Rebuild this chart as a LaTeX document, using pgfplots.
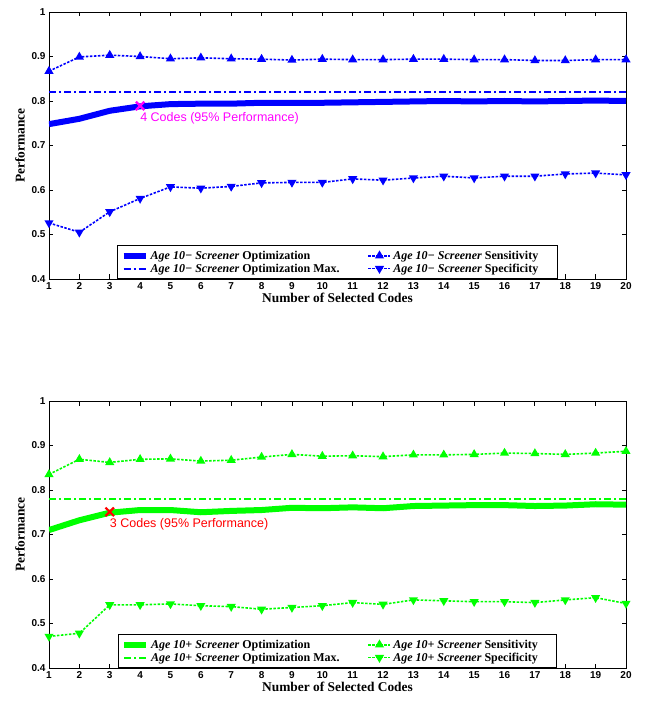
\documentclass[border=0pt]{standalone}
\usepackage{fontspec}
\setmainfont{Liberation Serif}
\setsansfont{Liberation Sans}
\usepackage{pgfplots}
\pgfplotsset{compat=1.18}
\definecolor{mblue}{rgb}{0,0,1}
\definecolor{mgreen}{rgb}{0,1,0}
\definecolor{mmag}{rgb}{1,0,1}
\definecolor{mred}{rgb}{1,0,0}
\pgfplotsset{
 myax/.style={
  scale only axis, width=577pt, height=267pt,
  xmin=1, xmax=20, ymin=0.4, ymax=1,
  xtick={1,2,3,4,5,6,7,8,9,10,11,12,13,14,15,16,17,18,19,20},
  xticklabels={1,2,3,4,5,6,7,8,9,10,11,12,13,14,15,16,17,18,19,20},
  ytick={0.4,0.5,0.6,0.7,0.8,0.9,1},
  yticklabels={0.4,0.5,0.6,0.7,0.8,0.9,1},
  tick align=inside, major tick length=4.5pt,
  every tick/.style={line width=0.8pt, black},
  axis line style={line width=0.8pt},
  tick label style={font=\fontsize{10}{12}\selectfont\sffamily\bfseries},
  label style={font=\fontsize{13.4}{16}\selectfont\bfseries},
  xlabel={Number of Selected Codes}, ylabel={Performance},
  xlabel style={yshift=3pt},
  legend columns=2,
  legend cell align=left,
  legend style={at={(0.5,0)}, anchor=south, font=\fontsize{12}{14}\selectfont\bfseries,
    draw=black, line width=0.8pt, inner xsep=3pt, inner ysep=3pt, row sep=-1pt,
    /tikz/every even column/.append style={column sep=26pt}},
  legend image code/.code={\draw[mark repeat=2,mark phase=2,##1] plot coordinates {(0pt,0pt) (11pt,0pt) (22pt,0pt)};},
  opt/.style={line width=6pt},
  omax/.style={line width=2pt, dash pattern=on 7pt off 3pt on 2pt off 3pt},
  sens/.style={line width=1.6pt, dash pattern=on 2.5pt off 1.5pt, mark=triangle*, mark size=3.7pt, mark options={solid}},
  spec/.style={line width=1.6pt, dash pattern=on 2.5pt off 1.5pt, mark=triangle*, mark size=3.7pt, mark options={solid, rotate=180}},
 }
}
\begin{document}
\begin{tikzpicture}[x=1pt,y=1pt]
\useasboundingbox (0,0) rectangle (645,702);
\begin{axis}[myax, at={(49pt,423pt)}, anchor=south west]
\addplot[mblue, opt] coordinates {(1,0.748)(2,0.760)(3,0.778)(4,0.788)(5,0.793)(6,0.794)(7,0.794)(8,0.796)(9,0.796)(10,0.796)(11,0.797)(12,0.798)(13,0.799)(14,0.800)(15,0.799)(16,0.800)(17,0.799)(18,0.800)(19,0.801)(20,0.800)};
\addlegendentry{\textit{Age 10− Screener} Optimization}
\addplot[mblue, sens] coordinates {(1,0.867)(2,0.899)(3,0.903)(4,0.900)(5,0.895)(6,0.897)(7,0.895)(8,0.894)(9,0.892)(10,0.894)(11,0.893)(12,0.893)(13,0.894)(14,0.894)(15,0.893)(16,0.893)(17,0.891)(18,0.891)(19,0.893)(20,0.893)};
\addlegendentry{\textit{Age 10− Screener} Sensitivity\kern14pt}
\addplot[mblue, omax] coordinates {(1,0.821)(20,0.821)};
\addlegendentry{\textit{Age 10− Screener} Optimization Max.}
\addplot[mblue, spec] coordinates {(1,0.526)(2,0.505)(3,0.551)(4,0.581)(5,0.607)(6,0.604)(7,0.608)(8,0.616)(9,0.617)(10,0.617)(11,0.625)(12,0.622)(13,0.627)(14,0.631)(15,0.627)(16,0.631)(17,0.631)(18,0.636)(19,0.638)(20,0.634)};
\addlegendentry{\textit{Age 10− Screener} Specificity\kern14pt}
\addplot[mmag, only marks, mark=x, mark size=6pt, line width=2.2pt, forget plot] coordinates {(4,0.789)};
\node[anchor=north west, text=mmag, font=\fontsize{12.5}{14}\selectfont\sffamily, inner sep=0pt] at (axis cs:4,0.789) [yshift=-6pt] {4 Codes (95\% Performance)};
\end{axis}
\begin{axis}[myax, at={(49pt,34pt)}, anchor=south west]
\addplot[mgreen, opt] coordinates {(1,0.710)(2,0.732)(3,0.749)(4,0.755)(5,0.755)(6,0.750)(7,0.753)(8,0.755)(9,0.760)(10,0.759)(11,0.761)(12,0.759)(13,0.764)(14,0.765)(15,0.766)(16,0.766)(17,0.764)(18,0.765)(19,0.768)(20,0.767)};
\addlegendentry{\textit{Age 10+ Screener} Optimization}
\addplot[mgreen, sens] coordinates {(1,0.835)(2,0.869)(3,0.862)(4,0.869)(5,0.870)(6,0.865)(7,0.867)(8,0.874)(9,0.880)(10,0.876)(11,0.877)(12,0.875)(13,0.879)(14,0.879)(15,0.880)(16,0.883)(17,0.882)(18,0.880)(19,0.883)(20,0.887)};
\addlegendentry{\textit{Age 10+ Screener} Sensitivity\kern14pt}
\addplot[mgreen, omax] coordinates {(1,0.779)(20,0.779)};
\addlegendentry{\textit{Age 10+ Screener} Optimization Max.}
\addplot[mgreen, spec] coordinates {(1,0.471)(2,0.478)(3,0.542)(4,0.542)(5,0.544)(6,0.540)(7,0.538)(8,0.532)(9,0.536)(10,0.540)(11,0.547)(12,0.543)(13,0.553)(14,0.551)(15,0.549)(16,0.549)(17,0.547)(18,0.553)(19,0.558)(20,0.545)};
\addlegendentry{\textit{Age 10+ Screener} Specificity\kern14pt}
\addplot[mred, only marks, mark=x, mark size=6pt, line width=2.2pt, forget plot] coordinates {(3,0.751)};
\node[anchor=north west, text=mred, font=\fontsize{12.5}{14}\selectfont\sffamily, inner sep=0pt] at (axis cs:3,0.751) [yshift=-6pt] {3 Codes (95\% Performance)};
\end{axis}
\end{tikzpicture}
\end{document}
